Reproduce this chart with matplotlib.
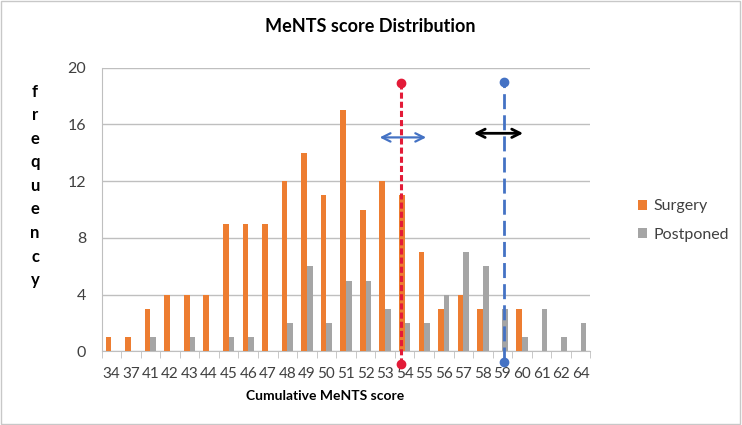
import numpy as np
import matplotlib.pyplot as plt
from matplotlib.ticker import FixedLocator

# MeNTS score categories and counts
scores = ['34', '37', '41', '42', '43', '44', '45', '46', '47', '48', '49', '50', '51',
          '52', '53', '54', '55', '56', '57', '58', '59', '60', '61', '62', '64']
surgery = [1, 1, 3, 4, 4, 4, 9, 9, 9, 12, 14, 11, 17, 10, 12, 11, 7, 3, 4, 3, 0, 3, 0, 0, 0]
postponed = [0, 0, 1, 0, 1, 0, 1, 1, 0, 2, 6, 2, 5, 5, 3, 2, 2, 4, 7, 6, 3, 1, 3, 1, 2]

# marker lines (category position) and arrows
red_line_x = 14.83
blue_line_x = 20.08

plt.rcParams['font.family'] = ['Lato', 'DejaVu Sans']

fig = plt.figure(figsize=(7.42, 4.25), dpi=100)
ax = fig.add_axes([0.1368, 0.173, 0.659, 0.668])

x = np.arange(len(scores))
w = 0.29
ax.bar(x - w / 2, surgery, w, color='#ED7D31', label='Surgery', zorder=3)
ax.bar(x + w / 2, postponed, w, color='#A5A5A5', label='Postponed', zorder=3)

ax.set_xlim(-0.5, len(scores) - 0.5)
ax.set_ylim(0, 20)
ax.set_yticks(range(0, 21, 4))
ax.set_xticks(x)
ax.set_xticklabels(scores)
ax.xaxis.set_minor_locator(FixedLocator(np.arange(-0.5, len(scores), 1)))
ax.tick_params(axis='x', which='major', length=0, pad=11, labelsize=11, labelcolor='#404040')
ax.tick_params(axis='x', which='minor', length=5, color='#BFBFBF')
ax.tick_params(axis='y', length=0, pad=11, labelsize=11.5, labelcolor='#404040')
ax.yaxis.grid(True, color='#BFBFBF', linewidth=1)
ax.set_axisbelow(True)
for s in ['top', 'right']:
    ax.spines[s].set_visible(False)
ax.spines['left'].set_color('#BFBFBF')
ax.spines['bottom'].set_color('#BFBFBF')

# vertical reference lines with dots at both ends
ax.plot([red_line_x, red_line_x], [-0.88, 18.9], color='#E31B38', lw=2.2,
        linestyle=(0, (2.0, 1.0)), marker='o', markersize=6, clip_on=False, zorder=5)
ax.plot([blue_line_x, blue_line_x], [-0.75, 18.95], color='#4472C4', lw=2,
        linestyle=(0, (5.4, 2.2)), marker='o', markersize=6, clip_on=False, zorder=5)

ax.annotate('', xy=(16.24, 15.08), xytext=(13.58, 15.08),
            arrowprops=dict(arrowstyle='<->', color='#4472C4', lw=1.6, mutation_scale=15))
ax.annotate('', xy=(21.2, 15.37), xytext=(18.39, 15.37),
            arrowprops=dict(arrowstyle='<->', color='black', lw=2, mutation_scale=15))

ax.legend(loc='upper left', bbox_to_anchor=(0.84, 0.565), bbox_transform=fig.transFigure,
          frameon=False, handlelength=0.6, handleheight=0.6, handletextpad=0.4,
          labelspacing=0.9, fontsize=11.5, labelcolor='#404040')

fig.text(370 / 742, 1 - 27 / 425, 'MeNTS score Distribution', ha='center', va='center',
         fontsize=13, fontweight='bold')
fig.text(325 / 742, 1 - 396 / 425, 'Cumulative MeNTS score', ha='center', va='center',
         fontsize=10, fontweight='bold')

for i, ch in enumerate('frequency'):
    fig.text(35 / 742, 1 - (92 + i * 23.5) / 425, ch, ha='center', va='center',
             fontsize=12, fontweight='bold')

fig.add_artist(plt.Rectangle((0.002, 0.002), 0.995, 0.995, transform=fig.transFigure,
                             fill=False, edgecolor='#C8C8C8', linewidth=1))

plt.savefig('out.png', dpi=100)
